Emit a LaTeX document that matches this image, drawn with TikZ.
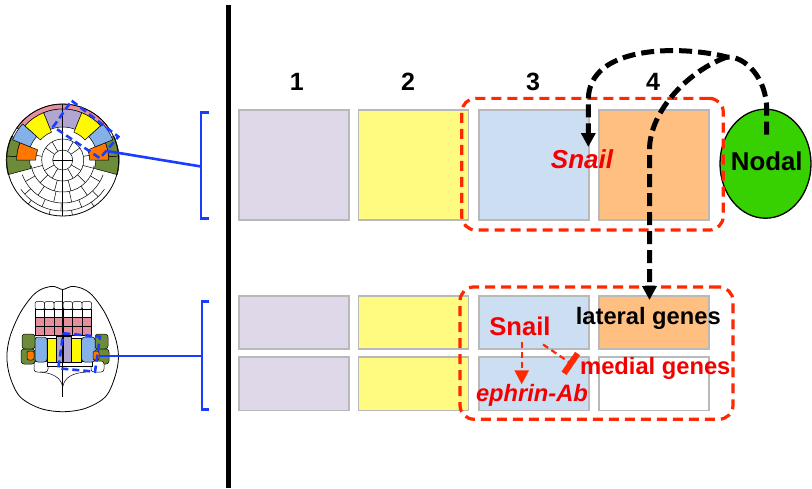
\documentclass[tikz,border=0pt]{standalone}
\usepackage{fontspec}
\setmainfont{Liberation Sans}
\usetikzlibrary{arrows.meta,calc,shapes.geometric}
\definecolor{boxgray}{RGB}{185,185,185}
\definecolor{lavbox}{RGB}{222,216,232}
\definecolor{yelbox}{RGB}{255,250,128}
\definecolor{bluebox}{RGB}{204,222,242}
\definecolor{orabox}{RGB}{255,191,128}
\definecolor{nodalg}{RGB}{55,208,0}
\definecolor{dashred}{RGB}{255,40,0}
\definecolor{txtred}{RGB}{245,0,0}
\definecolor{embblue}{RGB}{25,60,255}
\definecolor{cpink}{RGB}{228,142,158}
\definecolor{cpurple}{RGB}{176,166,208}
\definecolor{cyellow}{RGB}{255,250,0}
\definecolor{cblue}{RGB}{132,178,232}
\definecolor{corange}{RGB}{255,118,0}
\definecolor{cgreen}{RGB}{108,140,58}
\newcommand\emsect[5]{\filldraw[fill=#1,cellline] (#2:#5pt) arc[start angle=#2,end angle=#3,radius=#5pt] -- (#3:#4pt) arc[start angle=#3,end angle=#2,radius=#4pt] -- cycle;}
\begin{document}
\begin{tikzpicture}[x=1pt,y=-1pt,
  cellline/.style={draw=black,line width=0.5pt},
  cellbox/.style={draw=boxgray,line width=1.5pt,inner sep=0pt,minimum width=110pt},
  tallbox/.style={cellbox,minimum height=110pt},
  halfbox/.style={cellbox,minimum height=53.4pt},
  grpbox/.style={draw=dashred,line width=3.2pt,dash pattern=on 10pt off 6pt,rounded corners=14pt,inner sep=0pt},
  blkdash/.style={draw=black,line width=5pt,dash pattern=on 13pt off 6pt,-{Triangle[length=14pt,width=14pt]}},
  redarr/.style={draw=dashred,line width=2.2pt,dash pattern=on 6pt off 4pt,-{Triangle[length=14pt,width=14pt]}},
  redinh/.style={draw=dashred,line width=2.2pt,dash pattern=on 6pt off 4pt},
  bluedash/.style={draw=embblue,line width=2.6pt,dash pattern=on 7pt off 4pt},
  blueline/.style={draw=embblue,line width=2.6pt},
  lab/.style={anchor=base,inner sep=0pt}]
\useasboundingbox (0,0) rectangle (812,488);
\fill[white] (0,0) rectangle (812,488);

% ---------- top embryo ----------
\begin{scope}[shift={(62.7,160)}]
  \fill[white] (0,0) circle[radius=56pt];
  \begin{scope}[cellline]
    \draw (0,0) circle[radius=10pt];
    \draw (0,0) circle[radius=21pt];
    \draw (190:32pt) arc[start angle=190,end angle=350,radius=32pt];
    \draw (200:43pt) arc[start angle=200,end angle=340,radius=43pt];
    \draw (215:51pt) arc[start angle=215,end angle=325,radius=51pt];
    \foreach \a in {0,180} \draw (\a:0pt) -- (\a:10pt);
    \foreach \a in {35,60,120,145,210,240,300,330} \draw (\a:10pt) -- (\a:21pt);
    \foreach \a in {10,170,195,225,255,285,315,345} \draw (\a:21pt) -- (\a:32pt);
    \foreach \a in {210,235,258,282,305,330} \draw (\a:32pt) -- (\a:43pt);
    \foreach \a in {222,246,268,292,314} \draw (\a:43pt) -- (\a:51pt);
    \foreach \a in {232,256,280,304} \draw (\a:51pt) -- (\a:56pt);
  \end{scope}
  \emsect{cpink}{35}{145}{51}{56}
  \emsect{cpurple}{68}{90}{33}{51}
  \emsect{cpurple}{90}{112}{33}{51}
  \emsect{cyellow}{112}{138}{30}{51}
  \emsect{cyellow}{42}{68}{30}{51}
  \emsect{cgreen}{155}{176}{46}{56.5}
  \emsect{cgreen}{176}{195}{33}{56.5}
  \emsect{cgreen}{4}{25}{46}{56.5}
  \emsect{cgreen}{-15}{4}{33}{56.5}
  \emsect{corange}{158}{180}{27}{46}
  \emsect{corange}{0}{22}{27}{46}
  \emsect{cblue}{138}{158}{35}{54}
  \emsect{cblue}{22}{42}{35}{54}
  \draw[cellline] (0pt,-56pt) -- (0pt,56pt);
  \draw[line width=0.8pt] (0,0) circle[radius=56pt];
\end{scope}
\draw[bluedash] (71.7,100.7) -- (118.3,136.7) -- (100,158.3) -- (53.3,126.7) -- cycle;
\coordinate (e1) at (107,151);
\coordinate (k1) at (201,166.5);
\draw[blueline] (e1) -- (k1);
\draw[blueline] (209.3,112.7) -- (201,112.7) -- (201,218.3) -- (209.3,218.3);

% ---------- bottom embryo ----------
\draw[line width=0.8pt,fill=white] plot[smooth cycle,tension=0.55] coordinates {(62.7,289.5) (71,286.5) (81,288) (92,295) (105,313) (115,336.7) (118.5,356.7) (115,376.7) (105.5,396.7) (85.5,408.3) (62.7,411.7) (40,408.3) (20,396.7) (10,376.7) (6.9,356.7) (10,336.7) (20,313.3) (33.3,295) (44.4,288) (54.4,286.5)};
\foreach \xa/\xb in {35/44.5,44.5/54,54/63.2,63.2/72.5,72.5/82,82/91.5} {
  \filldraw[fill=white,cellline,rounded corners=2pt] (\xa,301.5) rectangle (\xb,309.5);
  \filldraw[fill=white,cellline] (\xa,309.5) rectangle (\xb,317);
  \filldraw[fill=cpink,cellline] (\xa,317) rectangle (\xb,326);
  \filldraw[fill=cpink,cellline] (\xa,326) rectangle (\xb,335.5);
}
\filldraw[fill=cgreen,cellline,rounded corners=3pt] (22,334) rectangle (35,349);
\filldraw[fill=cgreen,cellline,rounded corners=3pt] (21,349) rectangle (35,364);
\filldraw[fill=cgreen,cellline,rounded corners=3pt] (95,334) rectangle (108,349);
\filldraw[fill=cgreen,cellline,rounded corners=3pt] (95,349) rectangle (109,364);
\filldraw[fill=white,cellline,rounded corners=3pt] (34,361) rectangle (48,372);
\filldraw[fill=white,cellline,rounded corners=3pt] (91,361) rectangle (104,372);
\filldraw[fill=white,cellline] (47,361) rectangle (92,366);
\filldraw[fill=cblue,cellline,rounded corners=3pt] (35,337) rectangle (47,362);
\filldraw[fill=cyellow,cellline] (47,338) rectangle (56.7,362);
\filldraw[fill=cpurple,cellline] (56.7,336) rectangle (63.2,362);
\filldraw[fill=cpurple,cellline] (63.2,336) rectangle (71.7,362);
\filldraw[fill=cyellow,cellline] (71.7,338) rectangle (81.7,362);
\filldraw[fill=cblue,cellline,rounded corners=3pt] (81.7,337) rectangle (95,362);
\filldraw[fill=corange,cellline,rounded corners=2pt] (27,351) rectangle (34,360);
\filldraw[fill=corange,cellline,rounded corners=2pt] (93,351) rectangle (99,360);
\draw[cellline] (40,372) .. controls (52,373) and (61,377) .. (62.7,387) .. controls (64.4,377) and (73,373) .. (86,372);
\draw[cellline] (62.7,289.5) -- (62.7,397);
\draw[bluedash] (63.3,333.3) -- (100,336.7) -- (95,371.7) -- (58.3,368.3) -- cycle;
\coordinate (e2) at (100,356);
\coordinate (k2) at (202,356);
\draw[blueline] (e2) -- (k2);
\draw[blueline] (209.3,301.7) -- (202,301.7) -- (202,409.3) -- (209.3,409.3);

% ---------- divider ----------
\draw[line width=5pt] (228,5) -- (228,488);

% ---------- boxes ----------
\node[tallbox,fill=lavbox] (t1) at (293.8,165) {};
\node[tallbox,fill=yelbox] (t2) at (413.7,165) {};
\node[tallbox,fill=bluebox] (t3) at (533.8,165) {};
\node[tallbox,fill=orabox] (t4) at (654,165) {};
\node[halfbox,fill=lavbox] (m1) at (293.8,322.5) {};
\node[halfbox,fill=yelbox] (m2) at (413.7,322.5) {};
\node[halfbox,fill=bluebox] (m3) at (533.8,322.5) {};
\node[halfbox,fill=orabox] (m4) at (654,322.5) {};
\node[halfbox,fill=lavbox] (l1) at (293.8,383.9) {};
\node[halfbox,fill=yelbox] (l2) at (413.7,383.9) {};
\node[halfbox,fill=bluebox] (l3) at (533.8,383.9) {};
\node[halfbox,fill=white] (l4) at (654,383.9) {};

\node[ellipse,draw=black,line width=1.3pt,fill=nodalg,minimum width=91pt,minimum height=109pt,inner sep=0pt] (nodal) at (765.5,163.7) {};

\node[grpbox,minimum width=261.6pt,minimum height=131.7pt] (g1) at (592.5,164.2) {};
\node[grpbox,minimum width=273pt,minimum height=132.3pt] (g2) at (596.5,353.1) {};

% ---------- labels ----------
\node[lab,font=\fontsize{25}{30}\selectfont\bfseries] (n1) at (296.7,90) {1};
\node[lab,font=\fontsize{25}{30}\selectfont\bfseries] (n2) at (408,90) {2};
\node[lab,font=\fontsize{25}{30}\selectfont\bfseries] (n3) at (533,90) {3};
\node[lab,font=\fontsize{25}{30}\selectfont\bfseries] (n4) at (653,90) {4};
\node[lab,font=\fontsize{25.8}{30}\selectfont\bfseries] (nodaltxt) at (766.8,170) {Nodal};
\node[lab,text=txtred,font=\fontsize{26}{30}\selectfont\bfseries\itshape] (snail1) at (582,168.3) {Snail};
\node[lab,font=\fontsize{23.7}{28}\selectfont\bfseries] (lateral) at (648.3,324.3) {lateral genes};
\node[lab,text=txtred,font=\fontsize{23.7}{28}\selectfont\bfseries] (medial) at (655.3,374.5) {medial genes};
\node[lab,text=txtred,font=\fontsize{25.6}{30}\selectfont\bfseries] (snail2) at (520,335) {Snail};
\node[lab,text=txtred,font=\fontsize{23.7}{28}\selectfont\bfseries\itshape] (ephrin) at (532,401.7) {ephrin-Ab};

% ---------- black dashed arrows ----------
\coordinate (nodalin) at ($(nodal.north)+(1.2,26)$);
\coordinate (split) at (727,57);
\coordinate (snailtip) at (588.3,147);
\coordinate (latertip) at (649.5,300);
\draw[blkdash] (nodalin) -- ++(0,-25) .. controls (766.7,78) and (745,56) .. (split) .. controls (680,45) and (588.3,45) .. (588.3,100) -- (snailtip);
\draw[blkdash] (split) .. controls (690,70) and (649.5,110) .. (649.5,150) -- (latertip);

% ---------- red arrows ----------
\coordinate (sn2a) at ($(snail2.south)+(1.7,6.7)$);
\coordinate (sn2b) at (sn2a |- ephrin.north);
\draw[redarr] (sn2a) -- (sn2b);
\coordinate (inhs) at ($(snail2.south east)+(-7.7,9)$);
\coordinate (inhe) at ($(medial.north west)+(-9.2,6.3)$);
\draw[redinh] (inhs) -- (inhe);
\draw[draw=dashred,line width=6pt] ($(inhe)!12pt!90:(inhs)$) -- ($(inhe)!12pt!-90:(inhs)$);
\end{tikzpicture}
\end{document}
